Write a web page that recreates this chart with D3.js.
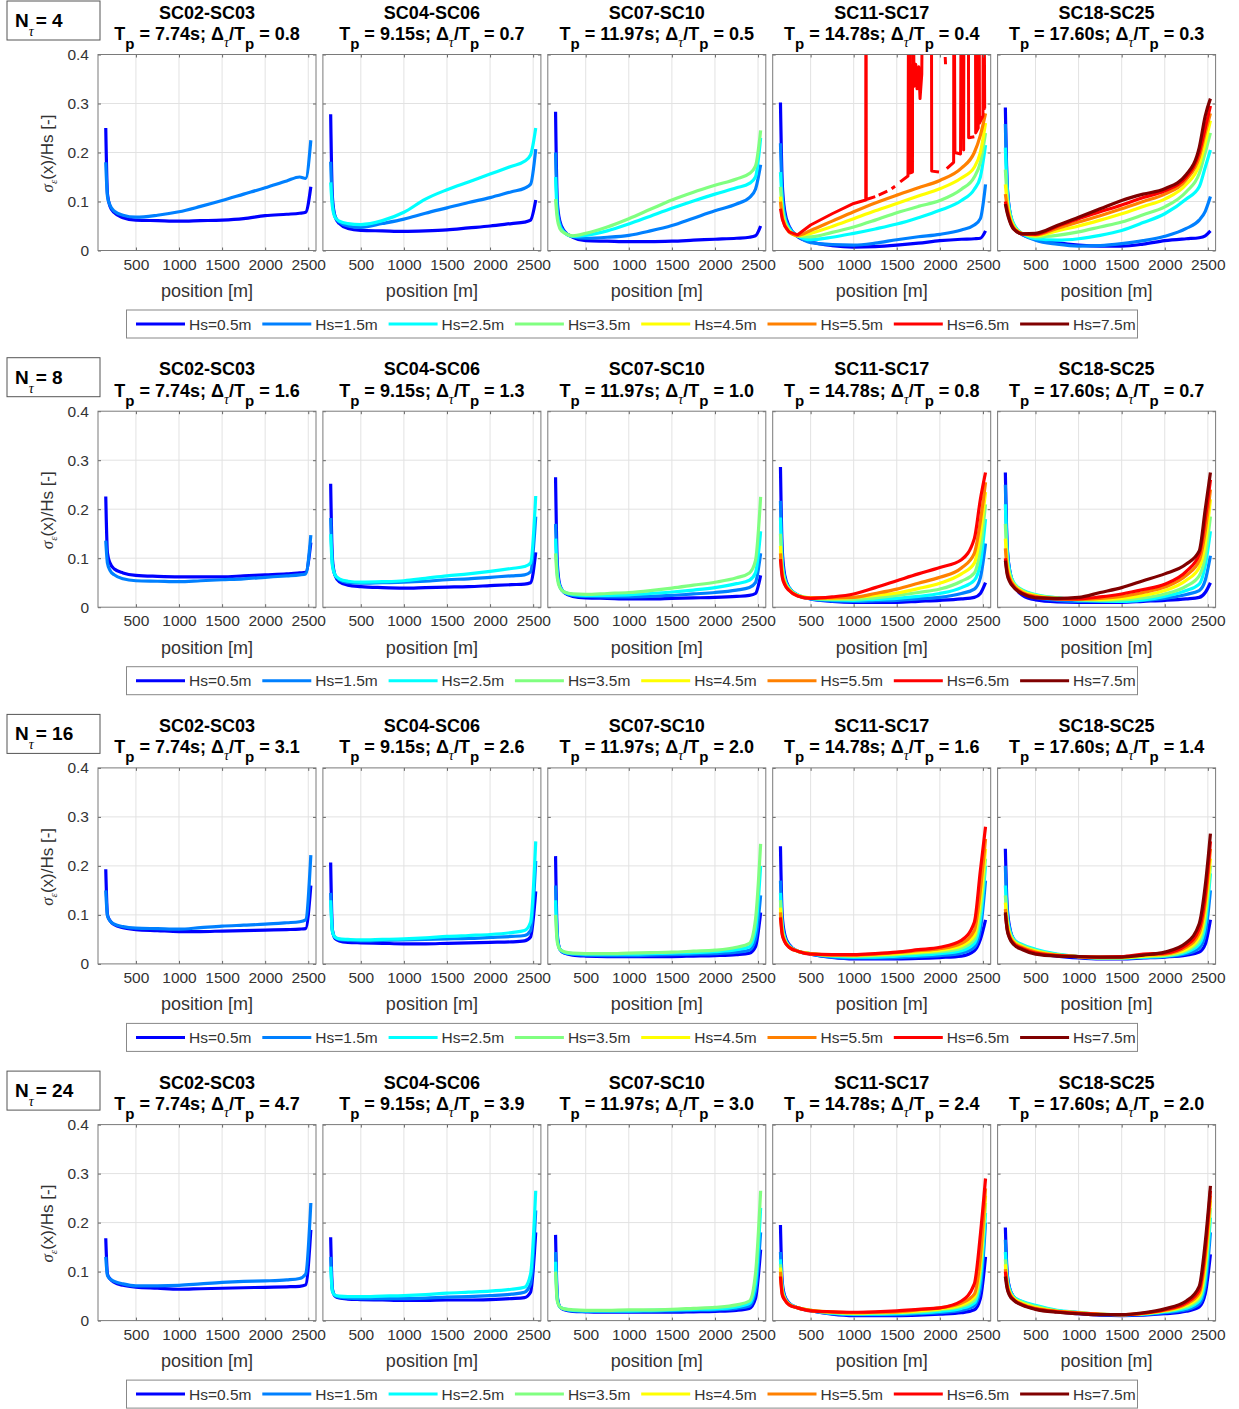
<!DOCTYPE html>
<html lang="en">
<head>
<meta charset="UTF-8">
<title>Strain standard deviation along the line</title>
<script src="https://d3js.org/d3.v7.min.js"></script>
<style>
  body { margin: 0; background: #fff; }
  svg { display: block; }
  text { white-space: pre; }
</style>
</head>
<body>
<svg id="chart" width="1239" height="1409"></svg>
<script>
(function () {
  'use strict';

  // positions along the line [m], shared by every series below
  const positions = [150, 170, 200, 250, 350, 500, 750, 1000, 1250, 1500, 1750, 2000, 2250, 2400, 2470, 2530];

  const caseNames = ['SC02-SC03', 'SC04-SC06', 'SC07-SC10', 'SC11-SC17', 'SC18-SC25'];
  const peakPeriods = ['7.74', '9.15', '11.97', '14.78', '17.60'];
  const nTauValues = [4, 8, 16, 24];
  const deltaRatios = [
    ['0.8', '0.7', '0.5', '0.4', '0.3'],
    ['1.6', '1.3', '1.0', '0.8', '0.7'],
    ['3.1', '2.6', '2.0', '1.6', '1.4'],
    ['4.7', '3.9', '3.0', '2.4', '2.0']
  ];
  const hsLabels = ['Hs=0.5m', 'Hs=1.5m', 'Hs=2.5m', 'Hs=3.5m', 'Hs=4.5m', 'Hs=5.5m', 'Hs=6.5m', 'Hs=7.5m'];
  const xTicks = [500, 1000, 1500, 2000, 2500];
  const yTicks = [0, 0.1, 0.2, 0.3, 0.4];

  // sigma_eps(x)/Hs, one array per Hs class (0.5m upwards)
  const n4_sc02 = [
    [0.250, 0.115, 0.090, 0.077, 0.067, 0.062, 0.061, 0.060, 0.061, 0.062, 0.065, 0.071, 0.074, 0.076, 0.078, 0.130],
    [0.180, 0.110, 0.092, 0.080, 0.072, 0.068, 0.072, 0.079, 0.090, 0.102, 0.115, 0.128, 0.142, 0.150, 0.147, 0.225]
  ];
  const n4_sc04 = [
    [0.278, 0.110, 0.070, 0.055, 0.045, 0.041, 0.040, 0.039, 0.040, 0.042, 0.046, 0.050, 0.055, 0.058, 0.062, 0.103],
    [0.181, 0.100, 0.070, 0.058, 0.050, 0.047, 0.055, 0.064, 0.076, 0.087, 0.098, 0.108, 0.120, 0.127, 0.135, 0.207],
    [0.139, 0.090, 0.068, 0.060, 0.055, 0.053, 0.061, 0.078, 0.105, 0.124, 0.140, 0.156, 0.172, 0.182, 0.195, 0.250]
  ];
  const n4_sc07 = [
    [0.283, 0.100, 0.060, 0.040, 0.027, 0.020, 0.019, 0.018, 0.018, 0.019, 0.021, 0.023, 0.025, 0.027, 0.030, 0.050],
    [0.200, 0.085, 0.055, 0.038, 0.028, 0.025, 0.027, 0.031, 0.040, 0.051, 0.066, 0.081, 0.095, 0.108, 0.125, 0.175],
    [0.150, 0.075, 0.050, 0.037, 0.029, 0.031, 0.040, 0.054, 0.070, 0.086, 0.101, 0.115, 0.128, 0.137, 0.150, 0.230],
    [0.105, 0.065, 0.045, 0.036, 0.030, 0.035, 0.048, 0.065, 0.084, 0.103, 0.119, 0.133, 0.146, 0.157, 0.172, 0.245]
  ];
  const n4_sc11 = [
    [0.302, 0.140, 0.080, 0.050, 0.028, 0.018, 0.010, 0.007, 0.008, 0.011, 0.015, 0.020, 0.023, 0.024, 0.025, 0.040],
    [0.219, 0.120, 0.072, 0.048, 0.030, 0.016, 0.012, 0.011, 0.015, 0.022, 0.028, 0.033, 0.042, 0.052, 0.065, 0.135],
    [0.160, 0.100, 0.065, 0.045, 0.030, 0.022, 0.027, 0.035, 0.044, 0.054, 0.067, 0.082, 0.102, 0.125, 0.150, 0.215],
    [0.130, 0.085, 0.060, 0.042, 0.030, 0.028, 0.037, 0.048, 0.062, 0.077, 0.090, 0.102, 0.125, 0.150, 0.180, 0.240],
    [0.110, 0.075, 0.055, 0.040, 0.030, 0.035, 0.049, 0.065, 0.081, 0.096, 0.111, 0.126, 0.148, 0.170, 0.200, 0.260],
    [0.100, 0.070, 0.052, 0.038, 0.031, 0.041, 0.060, 0.079, 0.097, 0.113, 0.128, 0.143, 0.168, 0.200, 0.235, 0.280]
  ];
  // Hs=6.5m for N=4 / SC11-SC17: gaps (null) and excursions past the top of the axes
  const n4RedPos = [150, 170, 200, 250, 350, 500, 750, 1000, 1140, 1141, 1144, 1146, 1250, null,
    1290, 1390, null,
    1440, 1480, null,
    1540, 1630, 1638, 1646, 1650, 1682, 1684, 1690, 1700, 1720, 1735, 1755, 1770, 1790, 1800, null,
    1898, 1902, 1905, 1990, null,
    2062, 2066, null,
    2080, 2160, 2162, 2166, 2175, 2240, 2248, 2272, 2276, 2280, 2330, 2334, 2400, null,
    2406, 2412, 2416, 2445, 2450, 2455, 2460, 2500, 2505, 2512, 2520, 2530];
  const n4RedVal = [0.085, 0.065, 0.050, 0.038, 0.032, 0.052, 0.075, 0.096, 0.103, 0.60, 0.60, 0.104, 0.110, null,
    0.113, 0.121, null,
    0.126, 0.131, null,
    0.140, 0.152, 0.60, 0.60, 0.158, 0.160, 0.60, 0.60, 0.335, 0.380, 0.330, 0.375, 0.310, 0.360, 0.60, null,
    0.60, 0.60, 0.162, 0.160, null,
    0.395, 0.380, null,
    0.167, 0.180, 0.60, 0.60, 0.200, 0.197, 0.60, 0.60, 0.205, 0.60, 0.60, 0.230, 0.232, null,
    0.60, 0.60, 0.240, 0.250, 0.60, 0.60, 0.260, 0.275, 0.60, 0.60, 0.290, 0.290];
  const n4_sc18 = [
    [0.292, 0.140, 0.080, 0.050, 0.032, 0.024, 0.016, 0.011, 0.009, 0.009, 0.013, 0.020, 0.024, 0.026, 0.030, 0.040],
    [0.258, 0.135, 0.082, 0.052, 0.033, 0.021, 0.013, 0.009, 0.010, 0.014, 0.020, 0.029, 0.045, 0.062, 0.080, 0.110],
    [0.210, 0.125, 0.080, 0.053, 0.034, 0.024, 0.021, 0.024, 0.031, 0.041, 0.057, 0.075, 0.105, 0.130, 0.170, 0.205],
    [0.165, 0.110, 0.075, 0.050, 0.034, 0.028, 0.031, 0.038, 0.048, 0.058, 0.073, 0.089, 0.120, 0.157, 0.200, 0.240],
    [0.135, 0.100, 0.070, 0.048, 0.034, 0.030, 0.040, 0.050, 0.062, 0.075, 0.090, 0.105, 0.135, 0.175, 0.220, 0.265],
    [0.115, 0.090, 0.065, 0.046, 0.034, 0.032, 0.045, 0.058, 0.071, 0.085, 0.100, 0.115, 0.145, 0.190, 0.240, 0.280],
    [0.100, 0.082, 0.062, 0.044, 0.034, 0.033, 0.049, 0.065, 0.079, 0.093, 0.108, 0.122, 0.150, 0.200, 0.250, 0.295],
    [0.095, 0.078, 0.060, 0.043, 0.034, 0.035, 0.051, 0.068, 0.085, 0.102, 0.115, 0.126, 0.155, 0.210, 0.275, 0.310]
  ];

  const n8_sc02 = [
    [0.226, 0.110, 0.090, 0.078, 0.070, 0.065, 0.063, 0.062, 0.062, 0.062, 0.064, 0.066, 0.068, 0.070, 0.071, 0.132],
    [0.136, 0.090, 0.075, 0.066, 0.058, 0.054, 0.053, 0.052, 0.054, 0.056, 0.058, 0.061, 0.064, 0.066, 0.068, 0.147]
  ];
  const n8_sc04 = [
    [0.252, 0.100, 0.065, 0.052, 0.045, 0.042, 0.040, 0.039, 0.040, 0.041, 0.042, 0.044, 0.046, 0.047, 0.050, 0.112],
    [0.182, 0.090, 0.066, 0.056, 0.050, 0.049, 0.050, 0.051, 0.053, 0.056, 0.058, 0.061, 0.064, 0.066, 0.072, 0.185],
    [0.149, 0.085, 0.066, 0.058, 0.053, 0.051, 0.052, 0.054, 0.059, 0.064, 0.068, 0.073, 0.079, 0.083, 0.090, 0.227]
  ];
  const n8_sc07 = [
    [0.265, 0.090, 0.045, 0.030, 0.022, 0.019, 0.018, 0.017, 0.017, 0.018, 0.019, 0.020, 0.022, 0.024, 0.028, 0.065],
    [0.170, 0.075, 0.042, 0.030, 0.024, 0.022, 0.021, 0.021, 0.022, 0.024, 0.027, 0.030, 0.035, 0.040, 0.050, 0.110],
    [0.140, 0.068, 0.042, 0.031, 0.026, 0.024, 0.024, 0.025, 0.028, 0.031, 0.035, 0.040, 0.048, 0.055, 0.070, 0.155],
    [0.110, 0.060, 0.040, 0.031, 0.027, 0.026, 0.028, 0.030, 0.034, 0.039, 0.045, 0.051, 0.060, 0.070, 0.095, 0.225]
  ];
  const n8_sc11 = [
    [0.286, 0.120, 0.065, 0.040, 0.024, 0.017, 0.012, 0.010, 0.010, 0.010, 0.012, 0.014, 0.017, 0.020, 0.028, 0.050],
    [0.217, 0.100, 0.060, 0.040, 0.025, 0.017, 0.013, 0.012, 0.013, 0.014, 0.017, 0.020, 0.028, 0.037, 0.060, 0.130],
    [0.183, 0.090, 0.057, 0.039, 0.025, 0.018, 0.015, 0.014, 0.016, 0.018, 0.022, 0.028, 0.040, 0.055, 0.090, 0.180],
    [0.150, 0.080, 0.053, 0.037, 0.024, 0.018, 0.016, 0.016, 0.019, 0.024, 0.030, 0.037, 0.053, 0.070, 0.120, 0.210],
    [0.125, 0.072, 0.050, 0.036, 0.024, 0.019, 0.018, 0.020, 0.024, 0.029, 0.038, 0.049, 0.068, 0.090, 0.150, 0.235],
    [0.110, 0.067, 0.048, 0.035, 0.023, 0.019, 0.019, 0.020, 0.028, 0.037, 0.049, 0.061, 0.080, 0.110, 0.175, 0.255],
    [0.098, 0.062, 0.046, 0.034, 0.023, 0.018, 0.021, 0.027, 0.040, 0.054, 0.068, 0.081, 0.097, 0.140, 0.220, 0.275]
  ];
  const n8_sc18 = [
    [0.275, 0.130, 0.075, 0.045, 0.024, 0.015, 0.011, 0.010, 0.010, 0.010, 0.012, 0.014, 0.017, 0.020, 0.030, 0.050],
    [0.250, 0.125, 0.075, 0.047, 0.028, 0.020, 0.014, 0.012, 0.012, 0.012, 0.014, 0.018, 0.026, 0.034, 0.055, 0.105],
    [0.210, 0.115, 0.073, 0.050, 0.035, 0.026, 0.019, 0.015, 0.013, 0.012, 0.015, 0.022, 0.034, 0.047, 0.085, 0.155],
    [0.170, 0.100, 0.068, 0.048, 0.034, 0.025, 0.019, 0.015, 0.014, 0.015, 0.019, 0.027, 0.043, 0.064, 0.105, 0.185],
    [0.140, 0.090, 0.063, 0.046, 0.032, 0.024, 0.018, 0.016, 0.016, 0.018, 0.024, 0.034, 0.055, 0.081, 0.130, 0.220],
    [0.120, 0.080, 0.059, 0.044, 0.030, 0.022, 0.017, 0.016, 0.018, 0.022, 0.030, 0.041, 0.065, 0.095, 0.155, 0.240],
    [0.100, 0.072, 0.055, 0.041, 0.028, 0.020, 0.017, 0.017, 0.021, 0.027, 0.036, 0.047, 0.073, 0.108, 0.180, 0.260],
    [0.095, 0.068, 0.052, 0.040, 0.027, 0.019, 0.018, 0.020, 0.030, 0.040, 0.054, 0.068, 0.088, 0.115, 0.200, 0.275]
  ];

  const n16_sc02 = [
    [0.193, 0.100, 0.088, 0.080, 0.074, 0.070, 0.068, 0.066, 0.066, 0.067, 0.068, 0.069, 0.070, 0.071, 0.072, 0.160],
    [0.150, 0.098, 0.088, 0.081, 0.076, 0.073, 0.072, 0.071, 0.074, 0.077, 0.079, 0.081, 0.084, 0.086, 0.090, 0.222]
  ];
  const n16_sc04 = [
    [0.207, 0.070, 0.052, 0.047, 0.044, 0.043, 0.042, 0.041, 0.041, 0.042, 0.043, 0.044, 0.045, 0.047, 0.055, 0.148],
    [0.145, 0.068, 0.054, 0.050, 0.048, 0.047, 0.048, 0.049, 0.050, 0.051, 0.052, 0.054, 0.056, 0.058, 0.068, 0.210],
    [0.130, 0.066, 0.055, 0.051, 0.050, 0.049, 0.050, 0.051, 0.053, 0.056, 0.058, 0.060, 0.064, 0.068, 0.085, 0.250]
  ];
  const n16_sc07 = [
    [0.220, 0.060, 0.030, 0.022, 0.018, 0.016, 0.015, 0.015, 0.015, 0.015, 0.016, 0.017, 0.019, 0.022, 0.035, 0.105],
    [0.160, 0.055, 0.030, 0.023, 0.020, 0.018, 0.017, 0.017, 0.018, 0.019, 0.020, 0.021, 0.024, 0.028, 0.050, 0.140],
    [0.130, 0.050, 0.030, 0.024, 0.021, 0.020, 0.020, 0.020, 0.021, 0.022, 0.023, 0.025, 0.029, 0.035, 0.070, 0.200],
    [0.100, 0.045, 0.030, 0.025, 0.022, 0.021, 0.021, 0.022, 0.023, 0.024, 0.026, 0.028, 0.034, 0.042, 0.090, 0.245]
  ];
  const n16_sc11 = [
    [0.240, 0.100, 0.060, 0.040, 0.026, 0.020, 0.013, 0.010, 0.010, 0.010, 0.011, 0.013, 0.016, 0.027, 0.050, 0.090],
    [0.170, 0.085, 0.055, 0.038, 0.026, 0.020, 0.014, 0.012, 0.012, 0.013, 0.015, 0.017, 0.022, 0.034, 0.070, 0.170],
    [0.145, 0.078, 0.052, 0.037, 0.026, 0.021, 0.016, 0.014, 0.014, 0.016, 0.018, 0.021, 0.027, 0.042, 0.090, 0.200],
    [0.130, 0.072, 0.050, 0.036, 0.026, 0.021, 0.017, 0.016, 0.017, 0.019, 0.022, 0.025, 0.032, 0.050, 0.110, 0.215],
    [0.115, 0.067, 0.048, 0.035, 0.026, 0.021, 0.018, 0.017, 0.019, 0.021, 0.024, 0.028, 0.037, 0.058, 0.130, 0.235],
    [0.105, 0.063, 0.046, 0.034, 0.026, 0.021, 0.018, 0.018, 0.020, 0.023, 0.027, 0.031, 0.042, 0.068, 0.150, 0.255],
    [0.095, 0.060, 0.045, 0.034, 0.026, 0.020, 0.019, 0.019, 0.021, 0.024, 0.029, 0.034, 0.048, 0.085, 0.190, 0.280]
  ];
  const n16_sc18 = [
    [0.235, 0.120, 0.075, 0.048, 0.032, 0.023, 0.016, 0.012, 0.010, 0.010, 0.012, 0.014, 0.018, 0.024, 0.040, 0.090],
    [0.200, 0.110, 0.072, 0.050, 0.037, 0.028, 0.019, 0.014, 0.011, 0.011, 0.013, 0.015, 0.021, 0.032, 0.060, 0.150],
    [0.160, 0.100, 0.068, 0.050, 0.039, 0.030, 0.020, 0.015, 0.012, 0.012, 0.014, 0.016, 0.024, 0.040, 0.080, 0.185],
    [0.140, 0.092, 0.064, 0.048, 0.037, 0.028, 0.019, 0.015, 0.012, 0.012, 0.015, 0.017, 0.027, 0.047, 0.095, 0.200],
    [0.125, 0.085, 0.060, 0.045, 0.035, 0.026, 0.018, 0.015, 0.013, 0.013, 0.016, 0.019, 0.030, 0.055, 0.110, 0.215],
    [0.112, 0.078, 0.057, 0.043, 0.033, 0.024, 0.018, 0.015, 0.014, 0.014, 0.018, 0.020, 0.034, 0.063, 0.125, 0.235],
    [0.102, 0.073, 0.054, 0.041, 0.031, 0.022, 0.017, 0.015, 0.014, 0.015, 0.020, 0.022, 0.038, 0.072, 0.140, 0.250],
    [0.105, 0.070, 0.052, 0.039, 0.029, 0.020, 0.016, 0.015, 0.014, 0.014, 0.018, 0.024, 0.043, 0.082, 0.160, 0.266]
  ];

  const n24_sc02 = [
    [0.168, 0.095, 0.085, 0.078, 0.072, 0.068, 0.066, 0.064, 0.065, 0.066, 0.067, 0.068, 0.069, 0.070, 0.073, 0.185],
    [0.130, 0.092, 0.085, 0.080, 0.075, 0.071, 0.071, 0.072, 0.075, 0.078, 0.080, 0.081, 0.083, 0.086, 0.095, 0.240]
  ];
  const n24_sc04 = [
    [0.170, 0.065, 0.050, 0.046, 0.044, 0.043, 0.042, 0.041, 0.041, 0.042, 0.042, 0.043, 0.045, 0.047, 0.058, 0.180],
    [0.130, 0.062, 0.051, 0.048, 0.046, 0.045, 0.045, 0.045, 0.046, 0.048, 0.049, 0.051, 0.054, 0.058, 0.075, 0.225],
    [0.110, 0.060, 0.052, 0.050, 0.049, 0.049, 0.050, 0.051, 0.053, 0.056, 0.058, 0.060, 0.064, 0.068, 0.095, 0.265]
  ];
  const n24_sc07 = [
    [0.175, 0.050, 0.028, 0.022, 0.019, 0.018, 0.017, 0.017, 0.017, 0.017, 0.018, 0.019, 0.021, 0.025, 0.045, 0.145],
    [0.140, 0.046, 0.028, 0.023, 0.020, 0.019, 0.019, 0.019, 0.019, 0.020, 0.021, 0.022, 0.025, 0.030, 0.060, 0.180],
    [0.120, 0.043, 0.028, 0.024, 0.021, 0.020, 0.020, 0.020, 0.021, 0.022, 0.023, 0.024, 0.028, 0.035, 0.075, 0.230],
    [0.100, 0.040, 0.028, 0.024, 0.022, 0.021, 0.021, 0.022, 0.022, 0.023, 0.025, 0.027, 0.032, 0.040, 0.095, 0.265]
  ];
  const n24_sc11 = [
    [0.195, 0.080, 0.050, 0.036, 0.026, 0.020, 0.013, 0.010, 0.010, 0.010, 0.011, 0.013, 0.016, 0.022, 0.045, 0.130],
    [0.140, 0.070, 0.047, 0.035, 0.026, 0.020, 0.014, 0.012, 0.012, 0.012, 0.014, 0.016, 0.021, 0.030, 0.065, 0.200],
    [0.125, 0.066, 0.046, 0.034, 0.026, 0.021, 0.015, 0.013, 0.013, 0.014, 0.016, 0.019, 0.025, 0.036, 0.085, 0.220],
    [0.115, 0.062, 0.045, 0.034, 0.026, 0.021, 0.016, 0.014, 0.015, 0.016, 0.018, 0.022, 0.029, 0.042, 0.100, 0.240],
    [0.108, 0.059, 0.044, 0.033, 0.026, 0.021, 0.017, 0.015, 0.016, 0.017, 0.020, 0.024, 0.032, 0.048, 0.115, 0.255],
    [0.100, 0.056, 0.043, 0.033, 0.026, 0.021, 0.018, 0.016, 0.017, 0.018, 0.022, 0.026, 0.036, 0.054, 0.130, 0.270],
    [0.090, 0.053, 0.042, 0.032, 0.026, 0.020, 0.018, 0.017, 0.018, 0.020, 0.023, 0.026, 0.040, 0.075, 0.175, 0.290]
  ];
  const n24_sc18 = [
    [0.190, 0.100, 0.066, 0.047, 0.035, 0.026, 0.018, 0.014, 0.011, 0.010, 0.011, 0.014, 0.019, 0.028, 0.055, 0.135],
    [0.165, 0.095, 0.065, 0.048, 0.038, 0.029, 0.020, 0.016, 0.012, 0.011, 0.012, 0.016, 0.022, 0.034, 0.070, 0.180],
    [0.140, 0.088, 0.063, 0.048, 0.039, 0.031, 0.021, 0.017, 0.013, 0.012, 0.013, 0.018, 0.025, 0.040, 0.085, 0.210],
    [0.125, 0.082, 0.060, 0.046, 0.037, 0.029, 0.020, 0.016, 0.013, 0.012, 0.014, 0.019, 0.028, 0.045, 0.100, 0.230],
    [0.115, 0.077, 0.058, 0.045, 0.035, 0.027, 0.019, 0.016, 0.013, 0.012, 0.014, 0.020, 0.031, 0.050, 0.115, 0.245],
    [0.105, 0.073, 0.055, 0.043, 0.033, 0.025, 0.019, 0.016, 0.013, 0.012, 0.015, 0.021, 0.034, 0.056, 0.130, 0.255],
    [0.100, 0.070, 0.053, 0.042, 0.032, 0.024, 0.018, 0.015, 0.013, 0.012, 0.015, 0.022, 0.037, 0.062, 0.145, 0.265],
    [0.090, 0.066, 0.051, 0.041, 0.031, 0.023, 0.017, 0.014, 0.012, 0.012, 0.016, 0.024, 0.040, 0.070, 0.160, 0.275]
  ];

  const panelData = [
    [n4_sc02, n4_sc04, n4_sc07, n4_sc11, n4_sc18],
    [n8_sc02, n8_sc04, n8_sc07, n8_sc11, n8_sc18],
    [n16_sc02, n16_sc04, n16_sc07, n16_sc11, n16_sc18],
    [n24_sc02, n24_sc04, n24_sc07, n24_sc11, n24_sc18]
  ];

  // jet(8)
  const hsColors = ['#0000ff', '#0080ff', '#00ffff', '#80ff80', '#ffff00', '#ff8000', '#ff0000', '#800000'];

  const FONT = '"Liberation Sans", Arial, Helvetica, sans-serif';
  const SERIF = '"Liberation Serif", "DejaVu Serif", serif';
  const TEXT = '#333';

  const colLeft0 = 98, colStep = 224.9, pw = 218;
  const rowTop0 = 54.5, rowStep = 356.7, ph = 196;

  const x = d3.scaleLinear().domain([60, 2590]).range([0, pw]);
  const y = d3.scaleLinear().domain([0, 0.4]).range([ph, 0]);

  const smoothLine = d3.line()
    .x(d => x(d[0]))
    .y(d => y(d[1]))
    .curve(d3.curveMonotoneX);
  const rawLine = d3.line()
    .defined(d => d[0] !== null && d[1] !== null)
    .x(d => x(d[0]))
    .y(d => y(d[1]));

  const svg = d3.select('#chart')
    .attr('font-family', FONT);

  svg.append('defs').append('clipPath')
    .attr('id', 'plotClip')
    .append('rect')
    .attr('width', pw)
    .attr('height', ph);

  const yFmt = d => d === 0 ? '0' : d3.format('.1f')(d);

  function styleAxis(sel) {
    sel.attr('font-family', FONT)
      .attr('font-size', 15.5)
      .attr('color', '#666');
    sel.select('.domain').remove();
    sel.selectAll('text').attr('fill', TEXT);
  }

  nTauValues.forEach((nTau, r) => {
    const rowTop = rowTop0 + r * rowStep;

    // N_tau box
    const boxG = svg.append('g').attr('transform', `translate(7,${rowTop - 53.5})`);
    boxG.append('rect')
      .attr('width', 93).attr('height', 39)
      .attr('fill', '#fff').attr('stroke', '#555').attr('stroke-width', 1);
    const nt = boxG.append('text')
      .attr('x', 8).attr('y', 26)
      .attr('font-size', 19).attr('font-weight', 'bold').attr('fill', '#000');
    nt.append('tspan').text('N');
    nt.append('tspan').attr('dy', 9).attr('font-size', 14).attr('font-weight', 'normal')
      .attr('font-style', 'italic').attr('font-family', SERIF).text('\u03c4');
    nt.append('tspan').attr('dy', -9).attr('dx', 2).text(`= ${nTau}`);

    caseNames.forEach((name, c) => {
      const g = svg.append('g')
        .attr('transform', `translate(${colLeft0 + c * colStep},${rowTop})`);

      // titles
      g.append('text')
        .attr('x', pw / 2).attr('y', -36)
        .attr('text-anchor', 'middle')
        .attr('font-size', 18).attr('font-weight', 'bold').attr('fill', '#000')
        .text(name);

      const t2 = g.append('text')
        .attr('x', pw / 2).attr('y', -14.5)
        .attr('text-anchor', 'middle')
        .attr('font-size', 18).attr('font-weight', 'bold').attr('fill', '#000');
      t2.append('tspan').text('T');
      t2.append('tspan').attr('dy', 9).attr('font-size', 15).text('p');
      t2.append('tspan').attr('dy', -9).text(` = ${peakPeriods[c]}s; \u0394`);
      t2.append('tspan').attr('dy', 7).attr('font-size', 14).attr('font-weight', 'normal')
        .attr('font-style', 'italic').attr('font-family', SERIF).text('\u03c4');
      t2.append('tspan').attr('dy', -7).text('/T');
      t2.append('tspan').attr('dy', 9).attr('font-size', 15).text('p');
      t2.append('tspan').attr('dy', -9).text(` = ${deltaRatios[r][c]}`);

      // plot background and grid
      g.append('rect').attr('width', pw).attr('height', ph).attr('fill', '#fff');
      g.append('g')
        .selectAll('line')
        .data(xTicks)
        .join('line')
        .attr('x1', d => x(d)).attr('x2', d => x(d))
        .attr('y1', 0).attr('y2', ph)
        .attr('stroke', '#e2e2e2').attr('stroke-width', 1);
      g.append('g')
        .selectAll('line')
        .data(yTicks.slice(1, -1))
        .join('line')
        .attr('x1', 0).attr('x2', pw)
        .attr('y1', d => y(d)).attr('y2', d => y(d))
        .attr('stroke', '#e2e2e2').attr('stroke-width', 1);

      // curves
      const series = panelData[r][c];
      const lines = g.append('g').attr('clip-path', 'url(#plotClip)');
      series.forEach((vals, k) => {
        lines.append('path')
          .datum(vals.map((v, i) => [positions[i], v]))
          .attr('fill', 'none')
          .attr('stroke', hsColors[k])
          .attr('stroke-width', 3.2)
          .attr('stroke-linejoin', 'round')
          .attr('d', smoothLine);
      });
      if (r === 0 && c === 3) {
        lines.append('path')
          .datum(n4RedPos.map((p, i) => [p, n4RedVal[i]]))
          .attr('fill', 'none')
          .attr('stroke', hsColors[6])
          .attr('stroke-width', 3)
          .attr('stroke-linejoin', 'round')
          .attr('d', rawLine);
      }

      // axes (ticks pointing inward on all four sides)
      g.append('g')
        .attr('transform', `translate(0,${ph})`)
        .call(d3.axisBottom(x).tickValues(xTicks).tickSizeInner(-3).tickSizeOuter(0)
          .tickPadding(8).tickFormat(d3.format('d')))
        .call(styleAxis);
      g.append('g')
        .call(d3.axisTop(x).tickValues(xTicks).tickSizeInner(-3).tickSizeOuter(0).tickFormat(''))
        .call(styleAxis);
      g.append('g')
        .call(d3.axisLeft(y).tickValues(yTicks).tickSizeInner(-3).tickSizeOuter(0)
          .tickPadding(9).tickFormat(c === 0 ? yFmt : ''))
        .call(styleAxis);
      g.append('g')
        .attr('transform', `translate(${pw},0)`)
        .call(d3.axisRight(y).tickValues(yTicks).tickSizeInner(-3).tickSizeOuter(0).tickFormat(''))
        .call(styleAxis);

      g.append('rect')
        .attr('width', pw).attr('height', ph)
        .attr('fill', 'none').attr('stroke', '#7a7a7a').attr('stroke-width', 1);

      g.append('text')
        .attr('x', pw / 2).attr('y', 242.5)
        .attr('text-anchor', 'middle')
        .attr('font-size', 18).attr('fill', TEXT)
        .text('position [m]');

      if (c === 0) {
        const yl = g.append('text')
          .attr('transform', `translate(-45,${ph / 2 + 1}) rotate(-90)`)
          .attr('text-anchor', 'middle')
          .attr('font-size', 17).attr('fill', TEXT);
        yl.append('tspan').attr('font-family', SERIF).attr('font-style', 'italic').text('\u03c3');
        yl.append('tspan').attr('dy', 4).attr('font-size', 11).attr('font-family', SERIF)
          .attr('font-style', 'italic').text('\u03b5');
        yl.append('tspan').attr('dy', -4).text('(x)/Hs [-]');
      }
    });

    // legend
    const lg = svg.append('g').attr('transform', `translate(126.5,${rowTop + 255.5})`);
    lg.append('rect')
      .attr('width', 1011).attr('height', 28)
      .attr('fill', '#fff').attr('stroke', '#888').attr('stroke-width', 1);
    const items = lg.selectAll('g.item')
      .data(hsLabels)
      .join('g')
      .attr('class', 'item')
      .attr('transform', (d, i) => `translate(${9.5 + i * 126.3},14)`);
    items.append('line')
      .attr('x1', 0).attr('x2', 49)
      .attr('stroke', (d, i) => hsColors[i])
      .attr('stroke-width', 3);
    items.append('text')
      .attr('x', 53).attr('dy', '0.36em')
      .attr('font-size', 15.5).attr('fill', TEXT)
      .text(d => d);
  });
}());
</script>
</body>
</html>
